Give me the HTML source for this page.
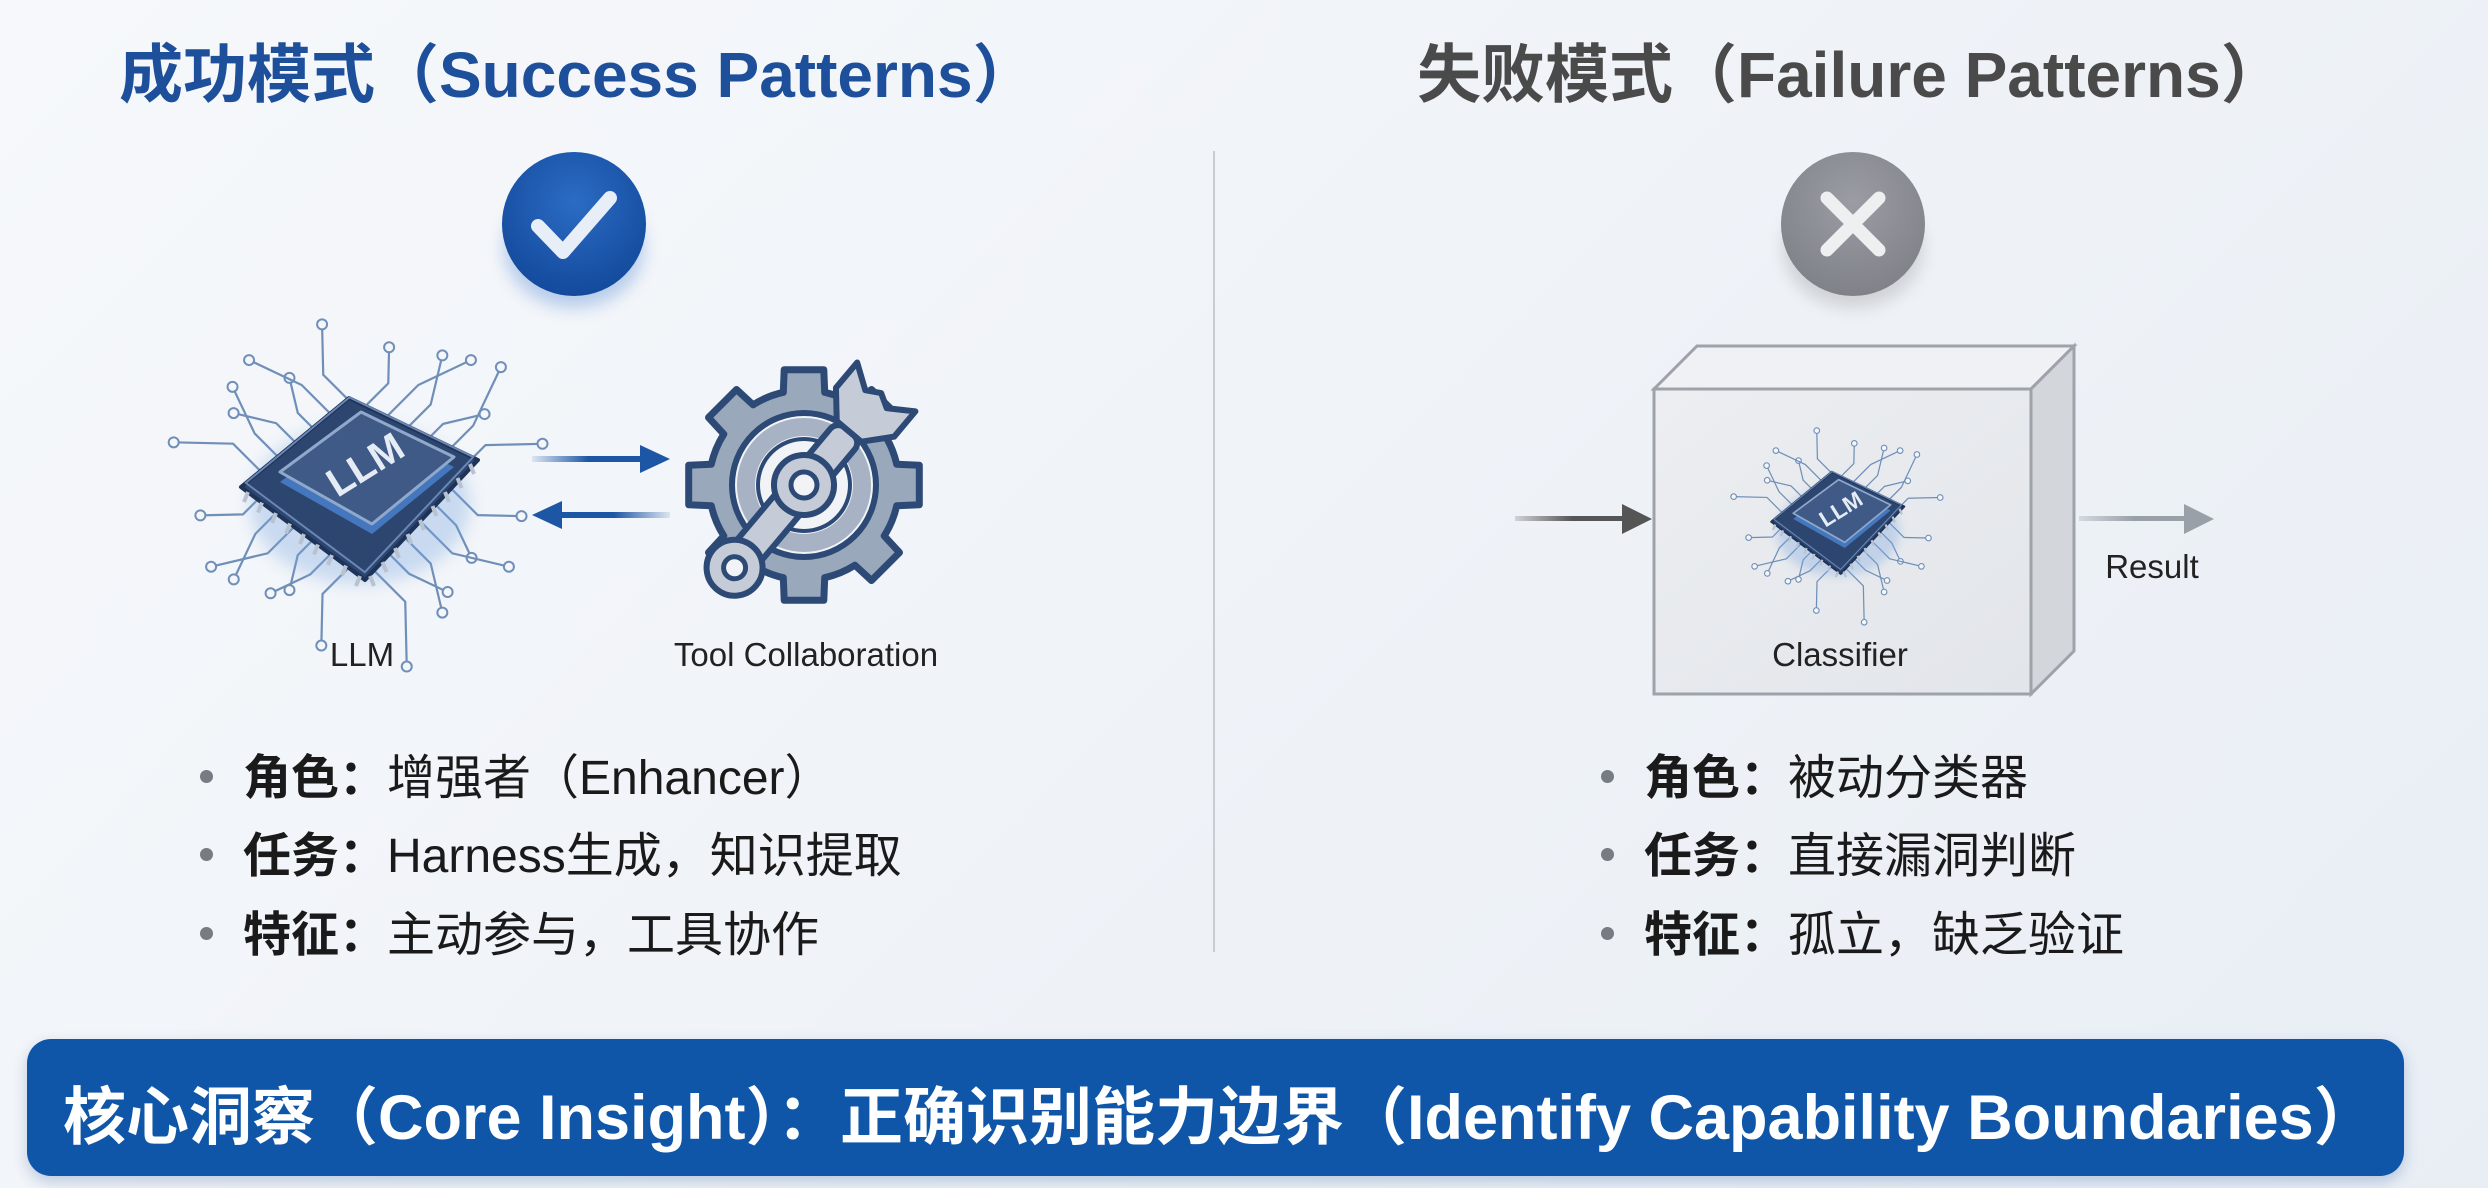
<!DOCTYPE html>
<html><head><meta charset="utf-8">
<style>
html,body{margin:0;padding:0}
body{width:2488px;height:1188px;overflow:hidden;background:linear-gradient(135deg,#f6f8fb 0%,#eef2f7 60%,#e9eef5 100%);font-family:"Liberation Sans","Noto Sans CJK SC",sans-serif;position:relative}
.t{position:absolute;white-space:nowrap}
.title{font-size:64px;font-weight:bold;top:24px}
.lab{font-size:33px;color:#222;transform:translateX(-50%)}
.bl{position:absolute;font-size:48px;color:#1a1a1a;white-space:nowrap}
.bl b{font-weight:bold}
.dot{position:absolute;width:13px;height:13px;border-radius:50%;background:#777b82}
.bar{position:absolute;left:27px;top:1039px;width:2377px;height:137px;border-radius:24px;background:#0f56a8;box-shadow:0 6px 14px rgba(30,80,150,.25)}
.bar span{position:absolute;left:36px;top:28px;font-size:63px;font-weight:bold;color:#fff;white-space:nowrap}
</style></head><body>
<div class="t title" style="left:119px;color:#1d4f9a">成功模式（Success Patterns）</div>
<div class="t title" style="left:1417px;color:#4a4a4a">失败模式（Failure Patterns）</div>

<svg width="2488" height="1188" style="position:absolute;left:0;top:0">
<defs>
<radialGradient id="cg" cx="50%" cy="35%" r="65%"><stop offset="0" stop-color="#2b6cc4"/><stop offset="1" stop-color="#134a9c"/></radialGradient>
<radialGradient id="xg" cx="50%" cy="35%" r="65%"><stop offset="0" stop-color="#9a9da3"/><stop offset="1" stop-color="#7f8288"/></radialGradient>
<filter id="sh" x="-50%" y="-50%" width="200%" height="200%"><feGaussianBlur stdDeviation="8"/></filter>
<linearGradient id="ar1" gradientUnits="userSpaceOnUse" x1="532" x2="645" y1="0" y2="0"><stop offset="0" stop-color="#1d56a5" stop-opacity="0.1"/><stop offset=".5" stop-color="#1d56a5"/></linearGradient>
<linearGradient id="ar2" gradientUnits="userSpaceOnUse" x1="670" x2="557" y1="0" y2="0"><stop offset="0" stop-color="#1d56a5" stop-opacity="0.1"/><stop offset=".5" stop-color="#1d56a5"/></linearGradient>
<linearGradient id="ar3" gradientUnits="userSpaceOnUse" x1="1515" x2="1630" y1="0" y2="0"><stop offset="0" stop-color="#555" stop-opacity=".2"/><stop offset=".5" stop-color="#555"/></linearGradient>
<linearGradient id="ar4" gradientUnits="userSpaceOnUse" x1="2079" x2="2190" y1="0" y2="0"><stop offset="0" stop-color="#9aa0a8" stop-opacity=".3"/><stop offset=".5" stop-color="#9aa0a8"/></linearGradient>
<linearGradient id="face" x1="0" y1="0" x2="1" y2="1"><stop offset="0" stop-color="#eceef1"/><stop offset="1" stop-color="#e2e5ea"/></linearGradient>
</defs>
<line x1="1214" y1="151" x2="1214" y2="952" stroke="#c9ccd1" stroke-width="2"/>
<ellipse cx="574" cy="248" rx="70" ry="60" fill="#4a80d0" opacity=".35" filter="url(#sh)"/>
<circle cx="574" cy="224" r="72" fill="url(#cg)"/>
<polyline points="538,226 563,252 610,198" fill="none" stroke="#e8eef8" stroke-width="14" stroke-linecap="round" stroke-linejoin="round"/>
<ellipse cx="1853" cy="248" rx="70" ry="60" fill="#888" opacity=".3" filter="url(#sh)"/>
<circle cx="1853" cy="224" r="72" fill="url(#xg)"/>
<path d="M1827,198 L1879,250 M1879,198 L1827,250" stroke="#eeeff1" stroke-width="13" stroke-linecap="round"/>

<rect x="532" y="456" width="113" height="6" fill="url(#ar1)"/>
<polygon points="640,445 670,459 640,473" fill="#1d56a5"/>
<rect x="557" y="512" width="113" height="6" fill="url(#ar2)"/>
<polygon points="562,501 532,515 562,529" fill="#1d56a5"/>

<g id="gear" transform="translate(804,485)"></g>

<polygon points="1654,389 1697,346 2074,346 2031,389" fill="#f0f1f4" stroke="#9ea3ab" stroke-width="3"/>
<polygon points="2031,389 2074,346 2074,651 2031,694" fill="#d3d6db" stroke="#9ea3ab" stroke-width="3"/>
<rect x="1654" y="389" width="377" height="305" fill="url(#face)" stroke="#9ea3ab" stroke-width="3"/>
<rect x="1515" y="516" width="115" height="5" fill="url(#ar3)"/>
<polygon points="1622,504 1652,519 1622,534" fill="#555"/>
<rect x="2079" y="516" width="111" height="5" fill="url(#ar4)"/>
<polygon points="2184,504 2214,519 2184,534" fill="#9aa0a8"/>

<g id="chip1" transform="translate(360,484)"></g>
<g id="chip2" transform="translate(1838,520) scale(0.56)"></g>
</svg>

<div class="t lab" style="left:362px;top:636px">LLM</div>
<div class="t lab" style="left:806px;top:636px">Tool Collaboration</div>
<div class="t lab" style="left:1840px;top:636px">Classifier</div>
<div class="t lab" style="left:2152px;top:548px">Result</div>

<div class="dot" style="left:200px;top:770px"></div>
<div class="bl" style="left:243px;top:738px"><b>角色：</b>增强者（Enhancer）</div>
<div class="dot" style="left:200px;top:848px"></div>
<div class="bl" style="left:243px;top:816px"><b>任务：</b>Harness生成，知识提取</div>
<div class="dot" style="left:200px;top:927px"></div>
<div class="bl" style="left:243px;top:895px"><b>特征：</b>主动参与，工具协作</div>

<div class="dot" style="left:1601px;top:770px"></div>
<div class="bl" style="left:1644px;top:738px"><b>角色：</b>被动分类器</div>
<div class="dot" style="left:1601px;top:848px"></div>
<div class="bl" style="left:1644px;top:816px"><b>任务：</b>直接漏洞判断</div>
<div class="dot" style="left:1601px;top:927px"></div>
<div class="bl" style="left:1644px;top:895px"><b>特征：</b>孤立，缺乏验证</div>

<div class="bar"><span>核心洞察（Core Insight）：正确识别能力边界（Identify Capability Boundaries）</span></div>

<script>
var NS="http://www.w3.org/2000/svg";
function el(p,tag,attrs,txt){var e=document.createElementNS(NS,tag);for(var k in attrs)e.setAttribute(k,attrs[k]);if(txt)e.textContent=txt;p.appendChild(e);return e;}
function chip(g){
  for(var side=0;side<4;side++){
    for(var i=0;i<6;i++){
      var t=-0.75+i*0.3;
      var ang=side*Math.PI/2 - Math.PI/4 + t*0.35;
      var bx=Math.cos(side*Math.PI/2-Math.PI/4), by=Math.sin(side*Math.PI/2-Math.PI/4);
      var px=-by, py=bx;
      var sx=bx*70+px*t*80, sy=by*60+py*t*70;
      var len=60+((i*37+side*13)%50);
      var mx=sx+bx*len*0.5, my=sy+by*len*0.5;
      var ex=mx+Math.cos(ang+(i%2?0.5:-0.5))*len*0.6, ey=my+Math.sin(ang+(i%2?0.5:-0.5))*len*0.6;
      el(g,"polyline",{points:sx+","+sy+" "+mx+","+my+" "+ex+","+ey,fill:"none",stroke:"#6f8fb8","stroke-width":2.2});
      el(g,"circle",{cx:ex,cy:ey,r:5,fill:"#f4f6f9",stroke:"#6f8fb8","stroke-width":2});
    }
  }
  el(g,"ellipse",{cx:0,cy:20,rx:110,ry:80,fill:"#7aa6e0",opacity:.35,filter:"url(#sh)"});
  el(g,"polygon",{points:"-119,3 -11,-86 118,-24 5,96",fill:"#2d4670",stroke:"#1e3357","stroke-width":4,"stroke-linejoin":"round"});
  el(g,"polygon",{points:"-119,3 -11,-86 118,-24 5,96",fill:"none",stroke:"#6b88b5","stroke-width":2,transform:"translate(0,-4) scale(.96)"});
  el(g,"polygon",{points:"-80,-12 1,-72 94,-27 12,40",fill:"#4f8be0",opacity:.7,transform:"translate(0,10)"});
  el(g,"polygon",{points:"-80,-12 1,-72 94,-27 12,40",fill:"#3f5a86",stroke:"#8fa8cc","stroke-width":3,"stroke-linejoin":"round"});
  el(g,"text",{x:6,y:-6,"text-anchor":"middle","font-family":"Liberation Sans, sans-serif","font-weight":"bold","font-size":"40",fill:"#e6ecf5",transform:"rotate(-32 6 -18)"},"LLM");
  for(var k=0;k<9;k++){
    var a=k/8;
    var x1=-112+a*112, y1=8+a*84;
    el(g,"line",{x1:x1,y1:y1,x2:x1-4,y2:y1+10,stroke:"#b8c2d0","stroke-width":4});
    var x2=10+a*100, y2=92-a*112;
    el(g,"line",{x1:x2,y1:y2,x2:x2+4,y2:y2+10,stroke:"#b8c2d0","stroke-width":4});
  }
}
chip(document.getElementById("chip1"));
chip(document.getElementById("chip2"));
(function(){
  var g=document.getElementById("gear");
  var teeth=8,ro=117,ri=95,d="";
  for(var i=0;i<teeth;i++){
    var a0=i*2*Math.PI/teeth;
    var w=0.17;
    var pts=[[ri,a0-0.22],[ro,a0-w],[ro,a0+w],[ri,a0+0.22]];
    pts.forEach(function(p,j){var x=p[0]*Math.cos(p[1]),y=p[0]*Math.sin(p[1]);d+=(i==0&&j==0?"M":"L")+x.toFixed(1)+","+y.toFixed(1);});
    var a2=a0+2*Math.PI/teeth-0.22;
    d+="A"+ri+","+ri+" 0 0 1 "+(ri*Math.cos(a2)).toFixed(1)+","+(ri*Math.sin(a2)).toFixed(1);
  }
  d+="Z";
  el(g,"path",{d:d,fill:"#9aa8bb",stroke:"#2c4a75","stroke-width":7,"stroke-linejoin":"round"});
  el(g,"circle",{r:72,fill:"#f1f3f6",stroke:"#2c4a75","stroke-width":6});
  el(g,"circle",{r:58,fill:"none",stroke:"#a7b3c4","stroke-width":18});
  el(g,"circle",{r:46,fill:"#f1f3f6",stroke:"#2c4a75","stroke-width":4});
  var w=el(g,"g",{transform:"rotate(-50)"});
  el(w,"rect",{x:-120,y:-16,width:190,height:32,rx:10,fill:"#c5ccd7",stroke:"#2c4a75","stroke-width":6});
  el(w,"circle",{cx:-108,cy:0,r:28,fill:"#c5ccd7",stroke:"#2c4a75","stroke-width":6});
  el(w,"circle",{cx:-108,cy:0,r:11,fill:"#f1f3f6",stroke:"#2c4a75","stroke-width":5});
  el(w,"path",{d:"M70,-16 L95,-38 L128,-38 L112,-14 L120,0 L112,14 L128,38 L95,38 L70,16 Z",fill:"#c5ccd7",stroke:"#2c4a75","stroke-width":6,"stroke-linejoin":"round"});
  el(w,"circle",{cx:0,cy:0,r:30,fill:"#c5ccd7",stroke:"#2c4a75","stroke-width":6});
  el(w,"circle",{cx:0,cy:0,r:13,fill:"#f1f3f6",stroke:"#2c4a75","stroke-width":5});
})();
</script>
</body></html>
